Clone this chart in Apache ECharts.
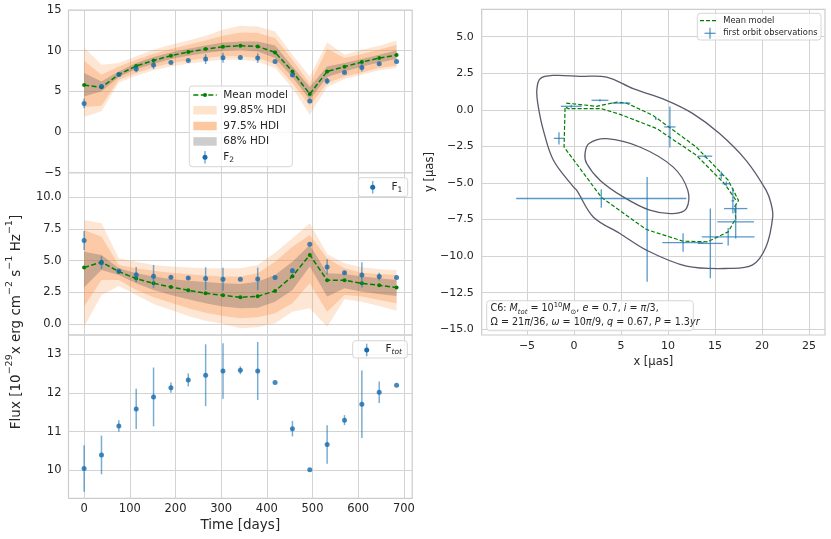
<!DOCTYPE html>
<html><head><meta charset="utf-8">
<script src="https://cdn.jsdelivr.net/npm/echarts@6/dist/echarts.min.js"></script>
<style>html,body{margin:0;padding:0;background:#fff}#c{width:831px;height:539px}</style>
</head><body><div id="c"></div>
<script>
// ---------- time axis ----------
const days = [0,38,76,114,152,190,228,266,304,342,380,418,456,494,532,570,608,646,684];
const timeTicks = [0,100,200,300,400,500,600,700];

// ---------- F2 panel ----------
const f2Mean = [5.77,5.49,7.08,8.11,8.80,9.38,9.83,10.20,10.48,10.61,10.52,9.79,7.45,4.67,7.45,8.03,8.60,9.09,9.46];
const f2Obs  = [3.52,5.61,7.08,7.74,8.23,8.56,8.80,8.97,9.13,9.17,9.09,8.68,7.00,3.81,6.27,7.33,7.94,8.39,8.68];
const f2Err  = [0.6,0.3,0.1,0.4,0.5,0.05,0.05,0.6,0.6,0.05,0.6,0,0.2,0,0.4,0.05,0.5,0.05,0];
const f2Hi99 = [10.4,8.27,8.48,9.30,10.11,10.73,11.26,11.83,12.57,13.06,12.98,12.37,9.5,6.84,11.02,9.5,10.11,10.61,11.26];
const f2Lo99 = [1.84,2.54,6.1,6.92,7.58,8.07,8.39,8.68,8.89,8.89,8.68,7.86,5.41,2.13,5.53,6.51,7.04,7.58,7.86];
const f2Hi97 = [8.76,7.04,8.07,8.89,9.62,10.2,10.73,11.26,11.83,12.24,12.16,11.55,8.89,5.94,10.2,9.09,9.58,10.11,10.73];
const f2Lo97 = [3.07,3.24,6.43,7.25,7.94,8.48,8.8,9.09,9.30,9.3,9.09,8.35,6.02,3.24,6.02,6.84,7.33,7.86,8.15];
const f2Hi68 = [7.25,6.22,7.45,8.48,9.21,9.79,10.24,10.65,11.02,11.14,11.14,10.65,8.07,5.53,8.07,8.48,8.97,9.5,10.03];
const f2Lo68 = [4.38,5.0,6.76,7.74,8.35,8.97,9.38,9.7,10.0,10.11,9.91,9.09,6.76,3.97,6.76,7.45,8.07,8.56,8.97];
const f2Ticks = [-5,0,5,10,15];

// ---------- F1 panel ----------
const f1Mean = [4.45,4.89,4.13,3.58,3.21,2.92,2.66,2.42,2.26,2.11,2.18,2.61,3.76,5.45,3.45,3.45,3.21,3.05,2.87];
const f1Obs  = [6.58,4.84,4.18,3.89,3.76,3.68,3.63,3.58,3.53,3.53,3.55,3.66,4.21,6.29,4.5,4.05,3.87,3.74,3.66];
const f1Err  = [0.75,0.5,0.1,0.6,0.9,0.1,0.1,0.9,0.9,0,0.9,0,0.2,0,0.6,0.1,1.0,0.3,0];
const f1Hi99 = [8.21,7.95,5.18,4.92,4.66,4.53,4.45,4.39,4.39,4.39,4.66,5.63,6.76,7.95,5.53,4.79,4.47,4.32,4.26];
const f1Lo99 = [-0.21,2.29,3.0,2.29,1.58,1.1,0.63,0.26,0.0,-0.34,-0.26,0.05,0.97,1.24,-0.21,1.95,1.76,1.42,1.05];
const f1Hi97 = [7.42,6.89,4.66,4.39,4.21,4.05,3.92,3.82,3.74,3.74,4.0,4.92,6.1,7.03,5.18,4.39,4.05,3.95,3.87];
const f1Lo97 = [1.37,3.47,3.47,2.68,2.11,1.68,1.24,0.89,0.63,0.45,0.53,0.84,1.63,3.21,0.97,2.29,2.16,1.89,1.63];
const f1Hi68 = [5.71,5.45,4.39,4.0,3.74,3.55,3.42,3.32,3.21,3.16,3.34,3.87,4.92,6.24,4.0,3.95,3.74,3.61,3.47];
const f1Lo68 = [2.89,4.26,3.87,3.21,2.68,2.29,1.95,1.63,1.37,1.24,1.29,1.76,2.68,4.53,2.16,2.82,2.55,2.37,2.21];
const f1Ticks = [0,2.5,5,7.5,10];

// ---------- Ftot panel ----------
const ftotObs = [10.05,10.40,11.15,11.59,11.90,12.14,12.34,12.46,12.57,12.59,12.57,12.27,11.08,10.02,10.67,11.30,11.71,12.02,12.20];
const ftotErr = [0.6,0.5,0.15,0.52,0.76,0.13,0.17,0.8,0.72,0.1,0.75,0,0.2,0,0.5,0.13,0.87,0.28,0];
const ftotTicks = [10,11,12,13];

// ---------- orbit panel ----------
const orbitX = [17.2,16.0,13.0,8.8,4.9,2.9,-0.6,-0.95,-1.06,2.94,7.7,11.6,14.2,16.4,17.2,17.1,17.5,16.4,13.0,8.4,5.6,4.6,2.4,-0.88];
const orbitY = [-6.15,-5.04,-3.1,-1.28,-0.31,0.08,0.08,0.2,-2.54,-6.0,-8.18,-8.98,-9.02,-8.34,-7.43,-6.6,-6.2,-4.81,-2.54,-0.38,0.46,0.53,0.24,0.46];
const obsX    = [-0.3,2.76,5.0,-1.6,8.7,10.2,13.95,15.66,16.2,16.9,17.2,17.2,16.4,14.5,11.6,7.78,2.9];
const obsY    = [0.24,0.65,0.46,-1.95,-0.6,-1.17,-3.17,-4.47,-5.05,-6.22,-6.75,-7.66,-8.68,-9.13,-9.07,-8.17,-6.06];
const obsXErr = [1.1,0.9,1.0,0.55,0.05,0.6,0.75,0.2,0.4,0.15,1.24,1.95,2.8,1.33,2.2,0.05,9.05];
const obsYErr = [0.1,0.08,0.05,0.42,0.1,1.4,0.1,0.25,0.15,0.87,0.3,1.14,0.6,2.38,0.63,3.58,0.63];
const outerX = [-3.96,-3.6,-2.19,0.64,3.47,6.29,9.83,12.65,15.48,18.3,20.43,20.96,21.14,20.43,19.0,16.5,11.95,7.7,4.88,2.05,0.28,-0.07,-2.19,-3.26,-3.79];
const outerY = [1.33,2.13,2.35,2.29,2.24,1.45,0.65,-0.26,-1.62,-3.45,-5.49,-6.4,-7.32,-9.36,-10.6,-10.84,-10.68,-9.59,-8.45,-7.32,-5.49,-5.27,-3.45,-1.4,0.19];
const innerX = [1.17,1.6,3.47,7.0,10.53,12.1,11.95,10.53,8.06,5.23,2.76,1.35];
const innerY = [-2.99,-2.3,-1.97,-2.54,-3.9,-5.49,-6.75,-7.09,-6.86,-5.95,-4.81,-3.67];
const posXTicks = [-5,0,5,10,15,20,25];
const posYTicks = [-15,-12.5,-10,-7.5,-5,-2.5,0,2.5,5];

// ---------- styles ----------
const FONT = 'DejaVu Sans';
const TXT = '#262626';
const GRIDC = '#d3d3d3';
const BLUE = '#156cae';
const ERRC = 'rgba(31,119,180,0.6)';
const GREEN = '#008000';
const C99 = 'rgba(250,140,60,0.22)';
const C97 = 'rgba(250,140,60,0.3)';
const C68 = 'rgba(90,90,90,0.30)';
const minusFmt = d => v => (v < 0 ? '\u2212' : '') + (d ? Math.abs(v).toFixed(d) : Math.abs(v));

function pairs(xs, ys) { return xs.map((x, i) => [x, ys[i]]); }

function band(ax, lo, hi, color, z) {
  return {
    type: 'custom', xAxisIndex: ax, yAxisIndex: ax, z: z, silent: true, clip: true,
    data: [[days[0], lo[0]]],
    renderItem: function (params, api) {
      const pts = [];
      for (let i = 0; i < days.length; i++) pts.push(api.coord([days[i], hi[i]]));
      for (let i = days.length - 1; i >= 0; i--) pts.push(api.coord([days[i], lo[i]]));
      return { type: 'polygon', shape: { points: pts }, style: { fill: color } };
    }
  };
}
function errBars(ax, vals, errs) {
  return {
    type: 'custom', xAxisIndex: ax, yAxisIndex: ax, z: 6, silent: true,
    data: days.map((d, i) => [d, vals[i], errs[i]]),
    renderItem: function (params, api) {
      const x = api.value(0), y = api.value(1), e = api.value(2);
      const a = api.coord([x, y - e]), b = api.coord([x, y + e]);
      return { type: 'line', shape: { x1: a[0], y1: a[1], x2: b[0], y2: b[1] },
               style: { stroke: ERRC, lineWidth: 1.5 } };
    }
  };
}
function dots(ax, vals) {
  return { type: 'scatter', xAxisIndex: ax, yAxisIndex: ax, z: 7, silent: true,
           symbol: 'circle', symbolSize: 5, itemStyle: { color: BLUE },
           data: pairs(days, vals) };
}
function meanLine(ax, vals) {
  return { type: 'line', xAxisIndex: ax, yAxisIndex: ax, z: 5, silent: true,
           symbol: 'circle', symbolSize: 4, showSymbol: true,
           itemStyle: { color: GREEN }, lineStyle: { color: GREEN, width: 1.5, type: [5, 2.5] },
           data: pairs(days, vals) };
}
function contour(xs, ys) {
  return {
    type: 'custom', xAxisIndex: 3, yAxisIndex: 3, z: 3, silent: true,
    data: [[xs[0], ys[0]]],
    renderItem: function (params, api) {
      const pts = xs.map((x, i) => api.coord([x, ys[i]]));
      return { type: 'polygon', shape: { points: pts, smooth: 0.35 },
               style: { fill: 'none', stroke: '#5a5a6c', lineWidth: 1.3 } };
    }
  };
}

const timeAxisBase = (show) => ({
  type: 'value', min: -34.2, max: 718.2,
  axisLine: { show: false }, axisTick: { show: false, customValues: timeTicks },
  axisLabel: { show: show, customValues: timeTicks, fontSize: 11.5, color: TXT, fontFamily: FONT, margin: 5, formatter: minusFmt(0) },
  splitLine: { show: true, lineStyle: { color: GRIDC, width: 1 } }
});
const valAxis = (min, max, ticks, dec, fs, margin) => ({
  type: 'value', min: min, max: max,
  axisLine: { show: false }, axisTick: { show: false, customValues: ticks },
  axisLabel: { customValues: ticks, fontSize: fs, color: TXT, fontFamily: FONT, margin: margin, formatter: minusFmt(dec) },
  splitLine: { show: true, lineStyle: { color: GRIDC, width: 1 } }
});

const gridBase = { show: true, borderColor: '#cccccc', borderWidth: 1.2, backgroundColor: 'transparent', containLabel: false };

const option = {
  animation: false,
  backgroundColor: '#ffffff',
  textStyle: { fontFamily: FONT },
  grid: [
    Object.assign({ left: 68.5, top: 10, width: 343.7, height: 162.7 }, gridBase),
    Object.assign({ left: 68.5, top: 172.7, width: 343.7, height: 162.3 }, gridBase),
    Object.assign({ left: 68.5, top: 335, width: 343.7, height: 163.3 }, gridBase),
    Object.assign({ left: 481.7, top: 9.3, width: 343.3, height: 325.7 }, gridBase)
  ],
  xAxis: [
    Object.assign({ gridIndex: 0 }, timeAxisBase(false)),
    Object.assign({ gridIndex: 1 }, timeAxisBase(false)),
    Object.assign({ gridIndex: 2 }, timeAxisBase(true)),
    Object.assign({ gridIndex: 3 }, valAxis(-9.82, 26.7, posXTicks, 0, 11, 6))
  ],
  yAxis: [
    Object.assign({ gridIndex: 0 }, valAxis(-5, 15, f2Ticks, 0, 11.5, 7)),
    Object.assign({ gridIndex: 1 }, valAxis(-0.87, 11.94, f1Ticks, 1, 11.5, 7)),
    Object.assign({ gridIndex: 2 }, valAxis(9.28, 13.5, ftotTicks, 0, 11.5, 7)),
    Object.assign({ gridIndex: 3 }, valAxis(-15.39, 6.87, posYTicks, 1, 11, 8))
  ],
  series: [
    band(0, f2Lo99, f2Hi99, C99, 1), band(0, f2Lo97, f2Hi97, C97, 2), band(0, f2Lo68, f2Hi68, C68, 3),
    meanLine(0, f2Mean), errBars(0, f2Obs, f2Err), dots(0, f2Obs),
    band(1, f1Lo99, f1Hi99, C99, 1), band(1, f1Lo97, f1Hi97, C97, 2), band(1, f1Lo68, f1Hi68, C68, 3),
    meanLine(1, f1Mean), errBars(1, f1Obs, f1Err), dots(1, f1Obs),
    errBars(2, ftotObs, ftotErr), dots(2, ftotObs),
    contour(outerX, outerY), contour(innerX, innerY),
    { type: 'line', xAxisIndex: 3, yAxisIndex: 3, z: 5, silent: true, symbol: 'none',
      lineStyle: { color: GREEN, width: 1.2, type: [4, 2] }, data: pairs(orbitX, orbitY) },
    { type: 'custom', xAxisIndex: 3, yAxisIndex: 3, z: 6, silent: true,
      data: obsX.map((x, i) => [x, obsY[i], obsXErr[i], obsYErr[i]]),
      renderItem: function (params, api) {
        const x = api.value(0), y = api.value(1), xe = api.value(2), ye = api.value(3);
        const a = api.coord([x - xe, y]), b = api.coord([x + xe, y]);
        const c = api.coord([x, y - ye]), d = api.coord([x, y + ye]);
        const st = { stroke: 'rgba(31,119,180,0.75)', lineWidth: 1.3 };
        return { type: 'group', children: [
          { type: 'line', shape: { x1: a[0], y1: a[1], x2: b[0], y2: b[1] }, style: st },
          { type: 'line', shape: { x1: c[0], y1: c[1], x2: d[0], y2: d[1] }, style: st }
        ] };
      } }
  ],
  graphic: [
    // axis titles
    { type: 'text', x: 240.3, y: 525.5, z: 50, style: { text: 'Time [days]', font: '13.5px "DejaVu Sans"', fill: TXT, align: 'center', verticalAlign: 'middle' } },
    { type: 'text', x: 14, y: 322, rotation: Math.PI / 2, z: 50,
      style: { text: '{n|Flux [10}{p|\u221229}{n|x erg cm}{p|\u22122}{n| s}{p|\u22121}{n| Hz}{p|\u22121}{n|]}', align: 'center', verticalAlign: 'middle',
        rich: { n: { fontSize: 13.5, fontFamily: FONT, fill: TXT, lineHeight: 18, verticalAlign: 'bottom' },
                p: { fontSize: 9.5, fontFamily: FONT, fill: TXT, lineHeight: 10, verticalAlign: 'top' } } } },
    { type: 'text', x: 653.3, y: 361.7, z: 50, style: { text: 'x [\u03bcas]', font: '11.5px "DejaVu Sans"', fill: TXT, align: 'center', verticalAlign: 'middle' } },
    { type: 'text', x: 430.5, y: 172, rotation: Math.PI / 2, z: 50, style: { text: 'y [\u03bcas]', font: '11.5px "DejaVu Sans"', fill: TXT, align: 'center', verticalAlign: 'middle' } },

    // top-left legend
    { type: 'rect', z: 40, shape: { x: 189.3, y: 86, width: 103, height: 80.7, r: 3 }, style: { fill: 'rgba(255,255,255,0.8)', stroke: '#d6d6d6', lineWidth: 1 } },
    { type: 'line', z: 41, shape: { x1: 193.3, y1: 95, x2: 216.7, y2: 95 }, style: { stroke: GREEN, lineWidth: 1.5, lineDash: [5, 2.5] } },
    { type: 'circle', z: 42, shape: { cx: 205, cy: 95, r: 2 }, style: { fill: GREEN } },
    { type: 'text', z: 42, x: 223.3, y: 95, style: { text: 'Mean model', font: '10.5px "DejaVu Sans"', fill: TXT, verticalAlign: 'middle' } },
    { type: 'rect', z: 41, shape: { x: 193.3, y: 106, width: 23.4, height: 8.5 }, style: { fill: '#fee3cd' } },
    { type: 'text', z: 42, x: 223.3, y: 110.3, style: { text: '99.85% HDI', font: '10.5px "DejaVu Sans"', fill: TXT, verticalAlign: 'middle' } },
    { type: 'rect', z: 41, shape: { x: 193.3, y: 121.8, width: 23.4, height: 8.5 }, style: { fill: '#fdc89e' } },
    { type: 'text', z: 42, x: 223.3, y: 126, style: { text: '97.5% HDI', font: '10.5px "DejaVu Sans"', fill: TXT, verticalAlign: 'middle' } },
    { type: 'rect', z: 41, shape: { x: 193.3, y: 137.2, width: 23.4, height: 8.5 }, style: { fill: '#cdcdcd' } },
    { type: 'text', z: 42, x: 223.3, y: 141.5, style: { text: '68% HDI', font: '10.5px "DejaVu Sans"', fill: TXT, verticalAlign: 'middle' } },
    { type: 'line', z: 41, shape: { x1: 205, y1: 151, x2: 205, y2: 163.6 }, style: { stroke: ERRC, lineWidth: 1.5 } },
    { type: 'circle', z: 42, shape: { cx: 205, cy: 157.3, r: 2.5 }, style: { fill: BLUE } },
    { type: 'text', z: 42, x: 223.3, y: 157.3, style: { text: '{n|F}{s|2}', verticalAlign: 'middle',
      rich: { n: { fontSize: 10.5, fontFamily: FONT, fill: TXT, lineHeight: 14 }, s: { fontSize: 7.5, fontFamily: FONT, fill: TXT, lineHeight: 9, verticalAlign: 'bottom' } } } },

    // F1 legend
    { type: 'rect', z: 40, shape: { x: 358.3, y: 177.7, width: 49.4, height: 19, r: 3 }, style: { fill: 'rgba(255,255,255,0.8)', stroke: '#d6d6d6', lineWidth: 1 } },
    { type: 'line', z: 41, shape: { x1: 372.7, y1: 181, x2: 372.7, y2: 193.6 }, style: { stroke: ERRC, lineWidth: 1.5 } },
    { type: 'circle', z: 42, shape: { cx: 372.7, cy: 187.3, r: 2.5 }, style: { fill: BLUE } },
    { type: 'text', z: 42, x: 391.5, y: 187.3, style: { text: '{n|F}{s|1}', verticalAlign: 'middle',
      rich: { n: { fontSize: 10.5, fontFamily: FONT, fill: TXT, lineHeight: 14 }, s: { fontSize: 7.5, fontFamily: FONT, fill: TXT, lineHeight: 9, verticalAlign: 'bottom' } } } },

    // Ftot legend
    { type: 'rect', z: 40, shape: { x: 352.7, y: 340.7, width: 54.6, height: 17.3, r: 3 }, style: { fill: 'rgba(255,255,255,0.8)', stroke: '#d6d6d6', lineWidth: 1 } },
    { type: 'line', z: 41, shape: { x1: 366.7, y1: 343.7, x2: 366.7, y2: 356.3 }, style: { stroke: ERRC, lineWidth: 1.5 } },
    { type: 'circle', z: 42, shape: { cx: 366.7, cy: 350, r: 2.5 }, style: { fill: BLUE } },
    { type: 'text', z: 42, x: 385.5, y: 349.5, style: { text: '{n|F}{s|tot}', verticalAlign: 'middle',
      rich: { n: { fontSize: 10.5, fontFamily: FONT, fill: TXT, lineHeight: 14 }, s: { fontSize: 7.5, fontFamily: FONT, fontStyle: 'italic', fill: TXT, lineHeight: 9, verticalAlign: 'bottom' } } } },

    // right legend
    { type: 'rect', z: 40, shape: { x: 697.3, y: 13.3, width: 123.7, height: 26.7, r: 3 }, style: { fill: 'rgba(255,255,255,0.8)', stroke: '#d6d6d6', lineWidth: 1 } },
    { type: 'line', z: 41, shape: { x1: 700, y1: 20.7, x2: 716.7, y2: 20.7 }, style: { stroke: GREEN, lineWidth: 1.2, lineDash: [4, 2] } },
    { type: 'text', z: 42, x: 723.3, y: 20.7, style: { text: 'Mean model', font: '8.3px "DejaVu Sans"', fill: TXT, verticalAlign: 'middle' } },
    { type: 'line', z: 41, shape: { x1: 704.5, y1: 33.3, x2: 715.5, y2: 33.3 }, style: { stroke: 'rgba(31,119,180,0.75)', lineWidth: 1.3 } },
    { type: 'line', z: 41, shape: { x1: 710, y1: 27.8, x2: 710, y2: 38.8 }, style: { stroke: 'rgba(31,119,180,0.75)', lineWidth: 1.3 } },
    { type: 'text', z: 42, x: 723.3, y: 33.3, style: { text: 'first orbit observations', font: '8.3px "DejaVu Sans"', fill: TXT, verticalAlign: 'middle' } },

    // parameter box
    { type: 'rect', z: 40, shape: { x: 486.7, y: 300.7, width: 206.6, height: 30, r: 3 }, style: { fill: 'rgba(255,255,255,0.8)', stroke: '#d6d6d6', lineWidth: 1 } },
    { type: 'text', z: 42, x: 490.5, y: 302, style: {
      text: '{n|C6: }{i|M}{s|tot}{n| = 10}{p|10}{i|M}{s|\u2299}{n|, }{i|e}{n| = 0.7, }{i|i}{n| = }{i|\u03c0}{n|/3,}\n' +
            '{n|\u03a9 = 21}{i|\u03c0}{n|/36, }{i|\u03c9}{n| = 10}{i|\u03c0}{n|/9, }{i|q}{n| = 0.67, }{i|P}{n| = 1.3}{i|yr}',
      rich: {
        n: { fontSize: 9.6, fontFamily: FONT, fill: TXT, lineHeight: 13.5 },
        i: { fontSize: 9.6, fontFamily: FONT, fontStyle: 'italic', fill: TXT, lineHeight: 13.5 },
        s: { fontSize: 6.8, fontFamily: FONT, fontStyle: 'italic', fill: TXT, lineHeight: 8, verticalAlign: 'bottom' },
        p: { fontSize: 6.8, fontFamily: FONT, fill: TXT, lineHeight: 8, verticalAlign: 'top' }
      } } }
  ]
};

const chart = echarts.init(document.getElementById('c'), null, { renderer: 'canvas' });
chart.setOption(option);
</script>
</body></html>
